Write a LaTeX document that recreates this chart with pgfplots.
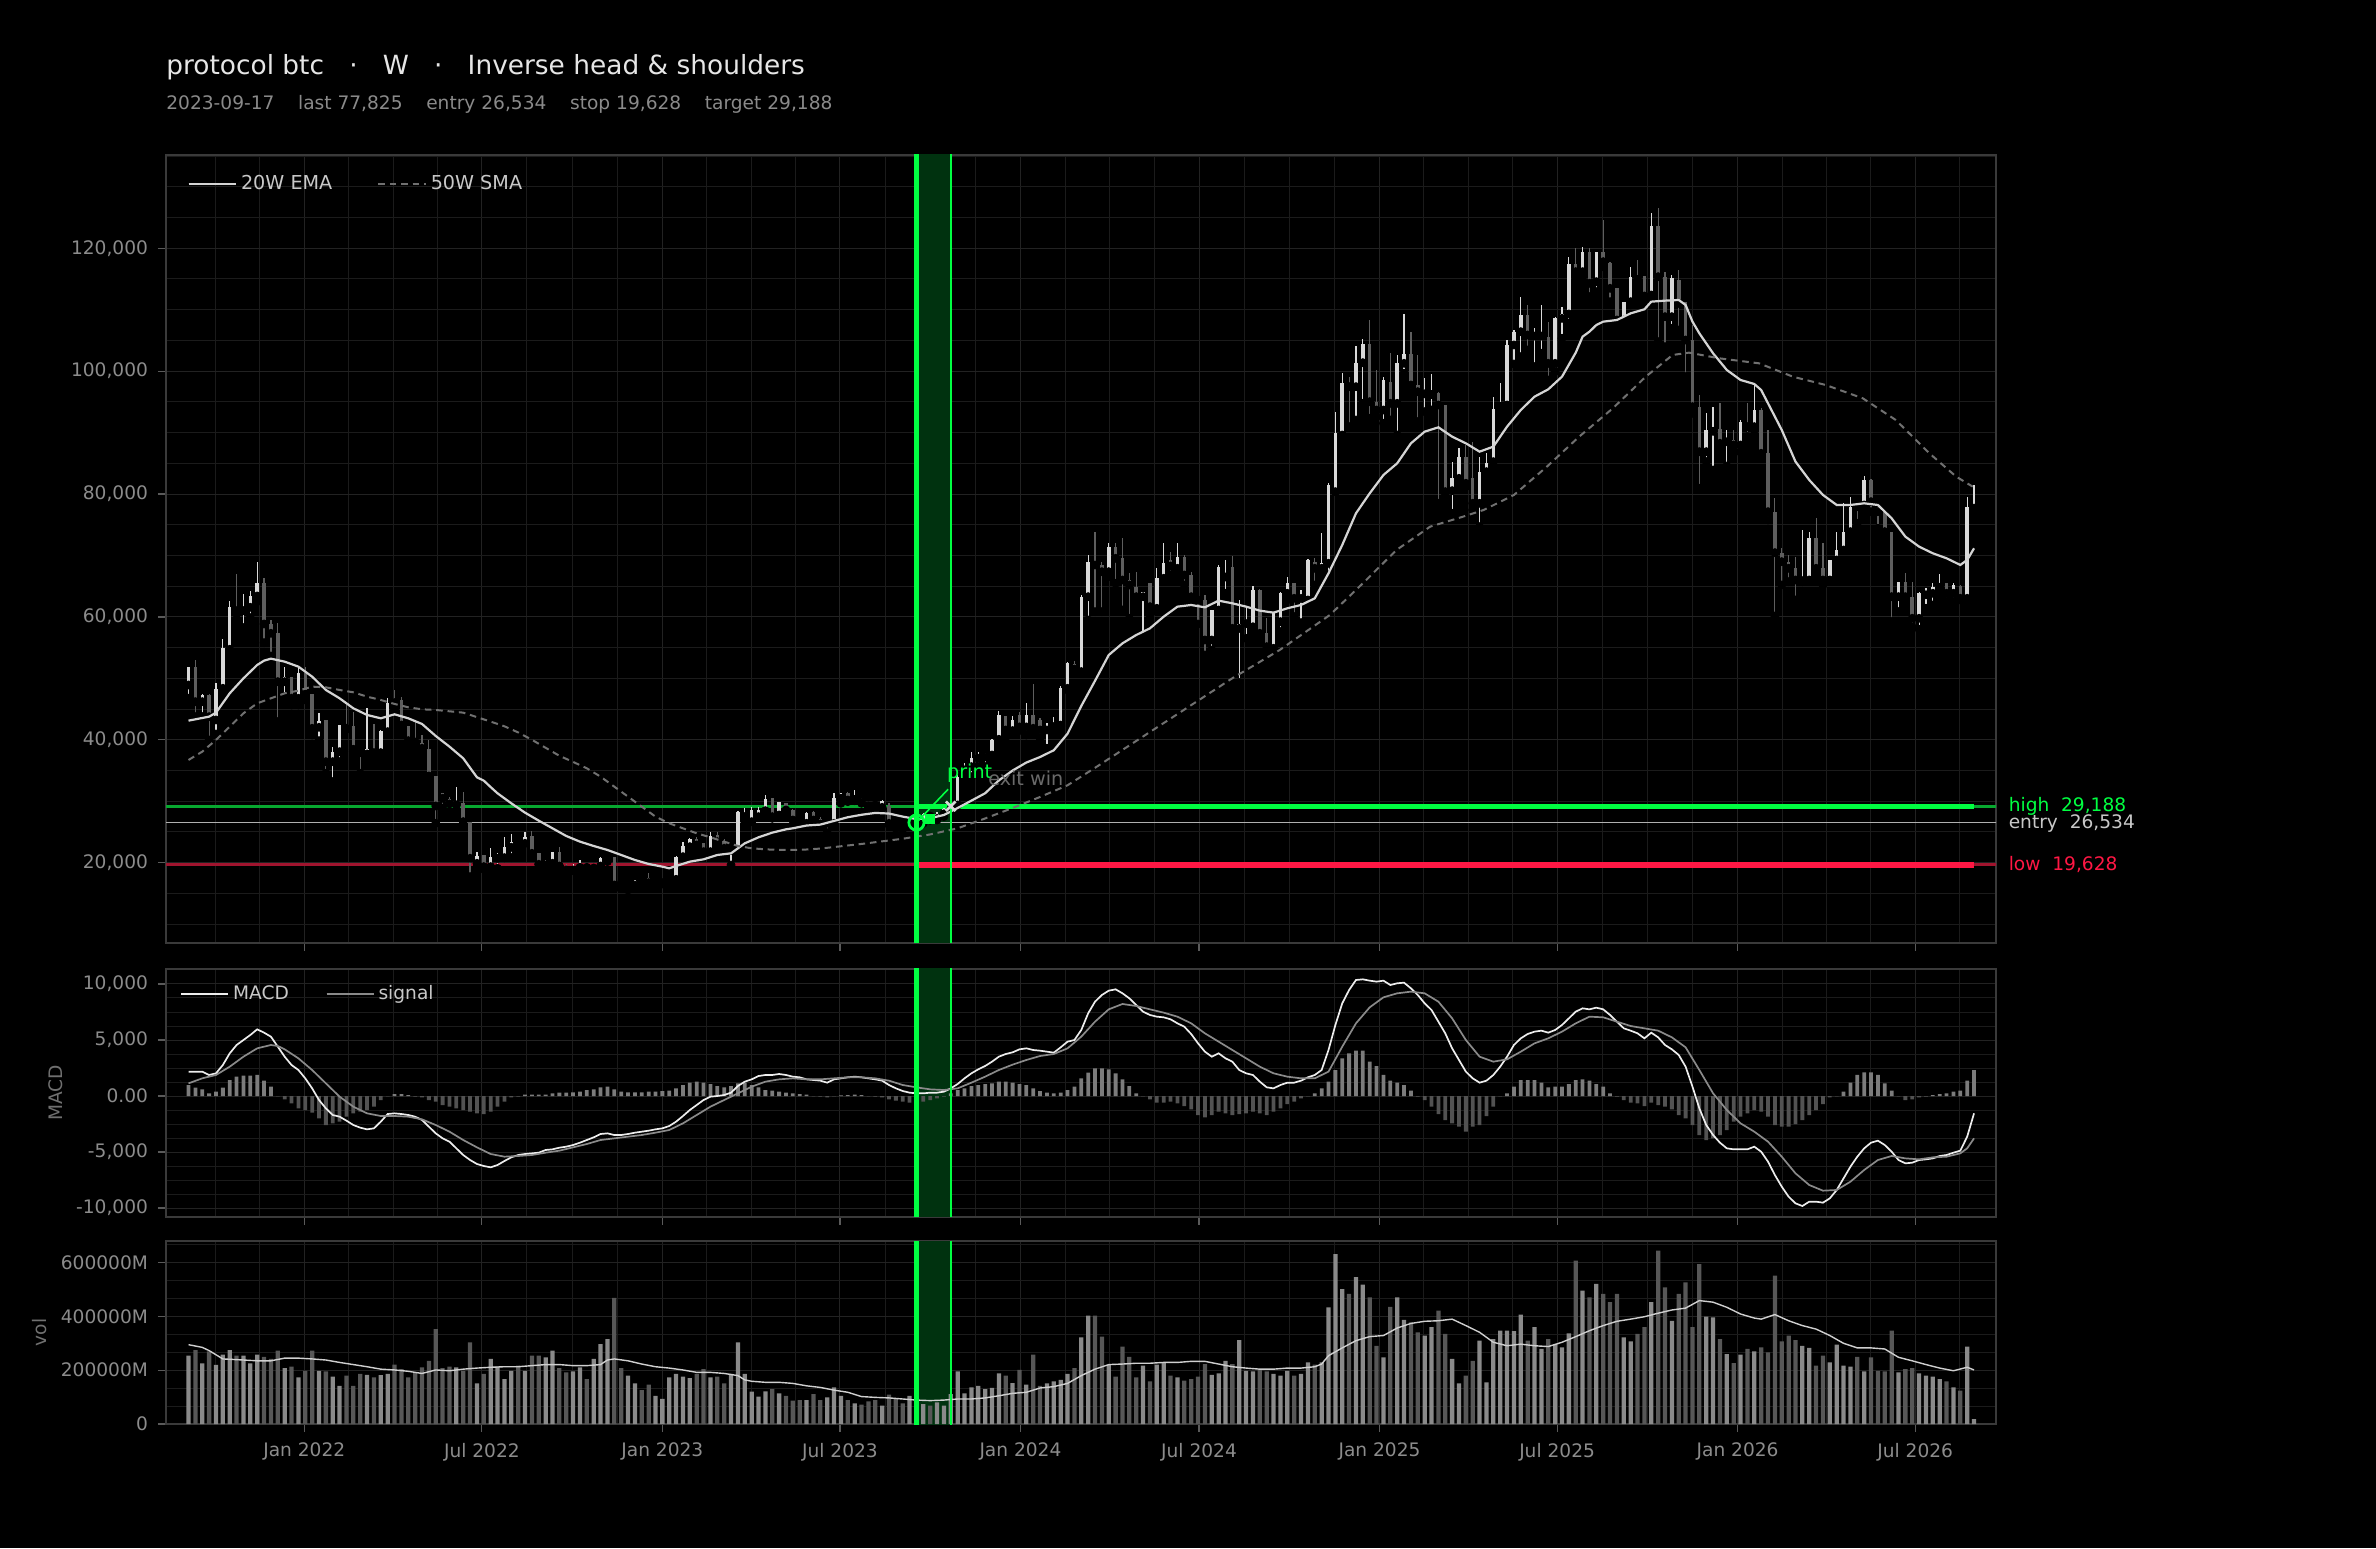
\documentclass[border=0pt]{standalone}
\usepackage{fontspec}
\setmainfont{DejaVu Sans}
\usepackage{pgfplots}
\usepackage{pgfplotstable}
\pgfplotsset{compat=1.18}

\definecolor{upc}{HTML}{D9D9D9}
\definecolor{dnc}{HTML}{5E5E5E}
\definecolor{emac}{HTML}{D4D4D4}
\definecolor{smac}{HTML}{707070}
\definecolor{bgreen}{HTML}{00FF41}
\definecolor{dgreen}{HTML}{08A830}
\definecolor{bandg}{HTML}{00320F}
\definecolor{bred}{HTML}{FF1744}
\definecolor{dred}{HTML}{A0142E}
\definecolor{entc}{HTML}{B0B0B0}
\definecolor{gridmaj}{HTML}{222222}
\definecolor{gridmin}{HTML}{1B1B1B}
\definecolor{framec}{HTML}{3A3A3A}
\definecolor{tickc}{HTML}{5A5A5A}
\definecolor{ticktxt}{HTML}{8C8C8C}
\definecolor{labc}{HTML}{707070}
\definecolor{titc}{HTML}{E6E6E6}
\definecolor{subc}{HTML}{8A8A8A}
\definecolor{legc}{HTML}{C8C8C8}
\definecolor{volup}{HTML}{8A8A8A}
\definecolor{voldn}{HTML}{575757}
\definecolor{histp}{HTML}{7C7C7C}
\definecolor{histn}{HTML}{525252}
\definecolor{macdc}{HTML}{EDEDED}
\definecolor{sigc}{HTML}{8A8A8A}
\definecolor{vmac}{HTML}{CFCFCF}
\definecolor{exitc}{HTML}{6A6A6A}

\pgfplotstableread{
i o h l c u v
0 48922 51905 46752 51905 1 254000
1 51905 52990 43769 46209 0 275000
2 46209 47457 43769 47294 1 225500
3 47294 47457 39972 43769 0 270000
4 43227 49194 40948 48217 1 220000
5 48380 56353 47185 54888 1 257800
6 54725 62645 54509 61560 1 275000
7 61560 66983 59607 61018 0 254000
8 61018 63675 58251 61397 1 254000
9 61560 64217 59878 63404 1 225500
10 63404 68882 62482 65573 1 257800
11 65465 66279 55810 58848 0 250000
12 58794 59498 53640 57330 0 242000
13 57330 59064 42955 49465 0 273000
14 49465 51905 47023 50279 1 208000
15 50170 50279 45667 46752 0 213000
16 46752 51905 45667 50821 1 173000
17 50821 51905 46481 47457 0 198000
18 47457 47457 40785 41870 0 273000
19 42033 44420 39863 43118 1 198000
20 43227 43227 34549 36447 0 196000
21 36447 38888 33193 38074 1 176000
22 38074 42413 36447 42413 1 142000
23 42142 45667 41707 41870 0 180000
24 42250 44582 38074 38454 0 142000
25 38454 38454 34549 37912 0 186000
26 37695 45125 37532 38454 1 183000
27 38454 42575 37369 37912 0 173000
28 37912 41598 37803 41490 1 182000
29 41327 46752 40948 46046 1 186000
30 46480 48109 44854 46046 0 221000
31 46480 47023 42142 42413 0 204000
32 42250 42250 39429 39863 0 173000
33 39972 42955 38617 39646 0 192000
34 39429 40785 37803 38617 0 211000
35 38454 39972 34006 34115 0 235000
36 34115 34115 26413 29234 0 353000
37 31293 31293 28853 30480 0 208000
38 30317 30751 28310 29559 0 213000
39 29396 32270 29396 29776 1 211000
40 29776 31564 26685 26685 0 198000
41 26685 26685 17736 20719 0 304000
42 19903 21801 19360 21096 1 151000
43 21259 21259 18926 19360 0 186000
44 19360 22343 19086 20900 1 242000
45 20700 21500 19086 21000 1 213000
46 20823 24131 20823 22504 1 167000
47 22504 24673 20823 23426 1 198000
48 23534 23534 22612 23263 0 217000
49 23154 25053 23154 24239 1 198000
50 24348 25161 20985 21528 0 254000
51 21636 21636 19738 19738 0 254000
52 19629 20443 19629 19900 1 248000
53 19900 21690 18707 21690 1 273000
54 21799 22612 19466 19466 0 208000
55 19466 19792 18382 18815 0 192000
56 18815 19792 18707 19249 1 196000
57 19249 20443 18978 19629 1 211000
58 19466 19900 18382 19249 0 167000
59 19140 19629 18924 19466 1 242000
60 19466 20985 19358 20714 1 297000
61 20714 21365 20172 20985 1 316000
62 20985 20985 15832 16375 0 469000
63 16917 17189 15832 16646 0 208000
64 16646 16917 15561 16917 1 180000
65 16375 17189 16212 17080 1 151000
66 17297 17460 16754 16917 0 126000
67 17460 18273 16646 16754 0 146000
68 16754 17080 16375 16917 1 105000
69 16754 17080 16538 16808 1 93000
70 16754 16917 16646 16917 1 173000
71 17297 21094 17189 20985 1 186000
72 20985 23426 20714 22721 1 176000
73 22612 23968 22504 23860 1 171000
74 23860 24131 22612 22884 0 186000
75 23155 23263 21528 21799 0 204000
76 21799 25053 21636 24348 1 173000
77 24511 25053 23155 23426 0 176000
78 23589 23806 22178 22341 0 151000
79 22000 22612 19629 22341 1 186000
80 22178 28471 22070 28308 1 304000
81 27500 28850 26680 28000 1 186000
82 26680 29121 26680 28580 1 120000
83 27494 29121 27385 28580 1 102000
84 28471 31020 28308 30314 1 121000
85 30477 30586 27223 27494 0 130000
86 27765 29935 27494 29935 1 114000
87 29664 29772 28308 28579 0 105000
88 28579 28687 26138 26952 0 87000
89 27223 27494 26680 26843 0 89000
90 26409 28308 26138 28145 1 89000
91 28300 28470 26680 26950 0 111000
92 27059 27385 26138 26300 0 89000
93 26409 26843 24890 26680 1 99000
94 26409 31291 26409 30477 1 136000
95 30477 31400 29660 31020 1 105000
96 31290 31507 29935 30206 0 89000
97 30300 31833 30097 30700 1 77000
98 30314 30477 29664 29772 0 72000
99 29935 29935 29012 29229 0 84000
100 29663 29935 29012 29391 0 89000
101 29012 30206 28850 30097 1 68000
102 29229 29663 26138 26409 0 109000
103 26843 26951 25595 26409 0 93000
104 26951 27059 25432 26518 0 77000
105 26400 26900 26000 26600 1 105000
106 26200 26900 26000 26534 1 74000
107 26534 28150 26400 27900 1 74000
108 27900 28000 26900 27600 0 68000
109 27200 28200 26950 27950 1 80000
110 27950 28950 27500 28800 1 68000
111 28800 30300 28600 29400 1 111000
112 29400 34300 29400 34000 1 196000
113 35100 36200 34300 35600 1 114000
114 35634 38073 34004 36990 1 136000
115 37000 38073 35634 37500 1 142000
116 37200 37800 35634 37500 1 130000
117 37530 40080 36717 39970 1 134000
118 40080 44745 39970 44079 1 188000
119 43876 43876 40405 41598 0 180000
120 41500 43900 41000 43225 1 152000
121 44000 44500 41500 42100 0 201000
122 42100 45940 40780 44000 1 146000
123 44040 49084 41700 41870 0 258000
124 43225 43496 40242 41598 0 142000
125 41600 42700 38614 42142 1 151000
126 42142 43767 41870 42576 1 159000
127 42400 48700 42142 48378 1 164000
128 48378 52717 48107 52446 1 186000
129 52400 52900 50800 51500 0 208000
130 51100 63500 50800 63294 1 322000
131 63294 70073 59497 68988 1 403000
132 68988 73763 60853 68446 0 403000
133 68446 68988 60853 67361 0 325000
134 67361 71972 66548 71430 1 220000
135 71430 71972 65463 69531 0 176000
136 69531 72787 61124 66006 0 288000
137 66006 67090 59768 65192 0 250000
138 64921 67361 62752 63294 0 173000
139 63294 64107 56786 64107 1 217000
140 65463 65463 60311 61667 0 159000
141 61400 67904 60853 66277 1 221000
142 66277 71972 66277 68717 1 229000
143 69260 70616 66820 68283 0 180000
144 67904 71972 67633 69802 1 173000
145 69802 70073 65192 66820 0 161000
146 66820 67361 62752 63294 0 167000
147 63294 63294 58846 62752 0 176000
148 62752 63565 53802 56243 0 223000
149 56243 61124 54615 61124 1 183000
150 61124 68446 60853 68174 1 188000
151 66500 69260 63836 67000 1 235000
152 68174 69911 57326 58140 0 223000
153 58140 62755 49302 58900 1 312000
154 58900 61400 56500 59000 1 198000
155 58400 65030 57871 64380 1 196000
156 64380 64500 57330 57330 0 204000
157 57330 59773 54347 55160 0 196000
158 54890 60856 54618 60585 1 186000
159 59230 64110 57600 63840 1 180000
160 63840 66552 62755 65576 1 198000
161 65576 65576 60043 63027 0 180000
162 63000 64380 59068 63400 1 186000
163 62755 69372 62755 69263 1 229000
164 69000 69534 65195 67907 0 221000
165 67907 73602 67636 68720 1 229000
166 68720 81740 66823 81468 1 434000
167 80383 93400 80383 89875 1 632000
168 89600 99638 89600 98011 1 502000
169 98011 98987 90960 97468 0 484000
170 97468 104086 92044 101374 1 546000
171 101374 105171 94756 104411 1 518000
172 104411 108316 92316 95027 0 471000
173 95027 100180 92587 93671 0 291000
174 93671 98987 91502 98554 1 248000
175 98283 102892 92044 94757 0 436000
176 94757 102622 89605 101265 1 471000
177 101265 109293 99638 102784 1 387000
178 102784 106418 96384 97739 0 378000
179 97739 102622 91773 96655 0 341000
180 96300 98824 93400 96500 1 329000
181 96200 99530 93671 96400 1 360000
182 96384 96655 78484 94485 0 422000
183 94485 94485 80111 80382 0 335000
184 80545 85265 76856 82550 1 242000
185 82550 87433 81468 86077 1 151000
186 86077 87976 81197 81740 0 180000
187 82540 88518 77400 78485 0 235000
188 78485 86077 74688 83637 1 310000
189 83637 86620 83094 85101 1 155000
190 85264 95841 85264 93780 1 316000
191 94268 98011 93129 94540 1 347000
192 94485 105062 94485 104249 1 347000
193 104249 106689 101157 106418 1 345000
194 106418 112113 102349 109130 1 407000
195 109130 110757 103435 105875 0 310000
196 105700 106960 100722 105900 1 360000
197 105700 110757 102892 105875 1 279000
198 105604 108045 98554 101265 0 316000
199 101265 108858 99909 108587 1 297000
200 108587 110486 105333 109293 1 285000
201 109293 118500 107774 117500 1 337000
202 117500 120000 115000 116182 0 608000
203 116182 120250 114826 119437 1 496000
204 119437 119979 112114 114284 0 471000
205 114555 119437 112927 119437 1 521000
206 119437 124589 116996 117810 0 484000
207 117647 117810 111301 113470 0 453000
208 113470 113470 107775 108317 0 484000
209 108317 111301 107504 111301 1 322000
210 111301 116996 110758 115369 1 307000
211 115300 118081 114555 114900 0 335000
212 115477 115477 111572 112223 0 360000
213 112385 125782 111843 123613 1 453000
214 123613 126487 104792 115369 0 645000
215 115369 116182 103978 108859 0 508000
216 108859 115640 106961 115098 1 384000
217 114826 116453 106690 111030 0 484000
218 111301 111301 99097 105063 0 527000
219 105063 107504 93130 94215 0 360000
220 94215 96113 80926 86893 0 595000
221 86893 93130 85266 90418 1 399000
222 90200 94215 83910 90500 1 397000
223 90527 94757 87978 88249 0 316000
224 88500 90418 84554 88800 1 260000
225 88790 90418 86622 87978 0 226000
226 87978 92045 86893 91774 1 258000
227 91500 94757 89334 90960 0 279000
228 90960 98012 90418 93673 1 270000
229 93673 93943 86080 86622 0 285000
230 86622 90418 75773 77129 0 266000
231 77129 79299 60152 70458 0 552000
232 70458 71163 65196 68993 0 307000
233 68993 70078 65739 67908 0 329000
234 67908 69807 62755 66010 0 312000
235 65900 74147 65739 66200 1 291000
236 66010 73876 66010 72791 1 283000
237 72791 76044 67637 67908 0 217000
238 67908 71977 65196 66010 0 254000
239 66010 69264 65900 69264 1 229000
240 69264 73876 67908 70891 1 295000
241 70891 78486 70891 73876 1 217000
242 73876 79570 73876 77944 1 213000
243 78215 78215 75231 77944 0 250000
244 78215 82934 78215 82283 1 196000
245 82283 82392 77129 78757 0 248000
246 77670 77944 74418 77129 0 198000
247 77129 77400 72629 73876 0 196000
248 73876 73876 59230 63298 0 347000
249 63298 65739 60857 65739 1 192000
250 65739 67203 62213 63298 0 204000
251 63298 65739 58306 59773 0 208000
252 59773 64111 57981 63840 1 188000
253 63600 64654 61400 63840 1 180000
254 63840 65576 61942 64817 1 176000
255 64817 66986 63840 65196 1 167000
256 65467 65576 62484 63840 0 159000
257 63840 65576 62484 65196 1 136000
258 65033 65196 62755 63027 0 124000
259 63027 79570 63027 77944 1 288000
260 77700 81468 76858 77825 1 18000
}\candles

\pgfplotstableread{
i e
0 43118
3 43769
4 44420
6 47565
8 50007
10 52175
11 52880
12 53207
14 52718
16 51905
18 50278
20 48108
22 46752
24 45125
26 44040
28 43498
30 44148
32 43498
34 42576
36 40623
38 38887
40 36989
42 33900
43 33352
44 32300
45 31291
47 29664
49 28145
51 26843
53 25596
55 24348
57 23426
59 22721
61 22070
63 21257
65 20443
67 19792
69 19358
70 19087
71 19466
73 20172
75 20551
77 21257
79 21528
81 23155
83 24131
85 24891
87 25433
88 25600
90 26050
92 26200
94 26800
96 27400
98 27800
100 28100
102 28000
104 27500
106 27100
108 27250
110 27765
112 28900
114 30100
116 31300
118 33400
120 35000
122 36300
124 37200
126 38300
128 41000
130 45500
132 49600
134 53800
136 55700
138 57057
140 58142
142 60040
144 61667
146 61938
148 61559
150 62644
152 62210
154 61670
156 61019
158 60693
160 61398
162 61941
164 63026
166 67094
168 71704
170 76857
172 80112
174 83095
176 84993
178 88243
180 90146
182 90852
184 89333
186 88248
188 86892
190 87705
192 90960
194 93671
196 95842
198 97035
200 99096
202 103000
203 105605
204 106419
205 107504
206 108046
208 108317
209 108859
210 109402
212 110053
213 111301
215 111464
217 111572
218 110758
219 108046
220 106148
222 102893
224 100181
226 98554
228 97903
229 96927
230 94757
232 90418
234 85265
236 82283
238 79842
240 78214
242 78214
244 78486
246 78214
248 76045
250 73062
252 71435
254 70350
256 69536
258 68451
259 69264
260 71163
}\ema

\pgfplotstableread{
i s
0 36717
2 38074
4 39972
6 42142
8 44312
10 45938
12 46752
14 47565
16 47999
18 48650
20 48542
22 48108
24 47728
26 47023
28 46481
30 45830
32 45288
34 44962
36 44854
40 44420
44 42955
46 42200
48 41200
50 40000
52 38700
54 37400
56 36400
58 35359
60 34003
62 32376
64 30749
66 29121
68 27494
70 26410
72 25596
74 24782
76 24131
78 23426
80 22721
82 22341
84 22179
86 22070
88 22070
90 22150
92 22300
94 22550
96 22800
98 23050
104 23900
108 24600
112 25600
116 27200
120 28900
124 30700
128 32600
132 35440
136 38355
140 41270
144 44180
148 47100
152 50020
158.9 54619
166.2 60314
171 65467
175.9 70891
180.8 74688
185.6 76315
188.6 77400
193 79841
197.8 84451
202.5 89333
207.4 93944
212.2 99097
216.1 102622
218.5 103002
222.9 102080
228.7 101265
233.6 99097
238.4 97741
243.8 95572
248.6 92046
253.5 86622
257.4 82825
259.8 81198
}\sma

\pgfplotstableread{
i m hv
0 2174 982
1 2174 744
2 2174 595
3 1876 238
4 2025 387
5 2768 744
6 3810 1429
7 4554 1727
8 5000 1816
9 5447 1816
10 5953 1876
11 5655 1370
12 5298 834
13 4405 0
14 3512 -298
15 2768 -655
16 2322 -1101
17 1578 -1250
18 685 -1488
19 -357 -1994
20 -1101 -2589
21 -1696 -2440
22 -1845 -2292
23 -2200 -1845
24 -2590 -1547
25 -2826 -1399
26 -2975 -1250
27 -2885 -952
28 -2290 -357
29 -1607 0
30 -1547 179
31 -1607 179
32 -1696 89
33 -1845 -60
34 -2143 -119
35 -2738 -357
36 -3333 -506
37 -3780 -804
38 -4077 -952
39 -4672 -1101
40 -5267 -1250
41 -5713 -1399
42 -6070 -1547
43 -6249 -1607
44 -6368 -1399
45 -6160 -952
46 -5803 -506
47 -5475 -119
48 -5267 -60
49 -5178 119
50 -5118 119
51 -5059 119
52 -4820 119
53 -4761 238
54 -4612 298
55 -4523 298
56 -4374 327
57 -4166 387
58 -3928 536
59 -3690 595
60 -3392 774
61 -3333 834
62 -3482 595
63 -3482 387
64 -3392 327
65 -3273 327
66 -3184 327
67 -3095 387
68 -2975 387
69 -2886 446
70 -2678 476
71 -2290 685
72 -1785 982
73 -1250 1191
74 -804 1280
75 -357 1191
76 -60 1072
77 0 893
78 89 774
79 298 893
80 893 1131
81 1280 1191
82 1488 982
83 1786 774
84 1876 536
85 1876 476
86 1965 387
87 1876 298
88 1727 238
89 1667 179
90 1488 119
91 1429 0
92 1370 -60
93 1191 -119
94 1488 0
95 1578 60
96 1667 89
97 1727 119
98 1667 89
99 1578 0
100 1488 -60
101 1370 -119
102 982 -298
103 685 -417
104 446 -506
105 298 -595
106 238 -595
107 238 -506
108 298 -357
109 298 -208
110 387 -60
111 685 238
112 1072 536
113 1578 685
114 2025 893
115 2382 982
116 2679 1072
117 3066 1131
118 3512 1280
119 3750 1280
120 3900 1191
121 4167 1072
122 4256 982
123 4107 685
124 4048 446
125 3959 298
126 3870 238
127 4346 298
128 4852 536
129 5000 834
130 5893 1578
131 7381 2083
132 8423 2470
133 9018 2470
134 9405 2381
135 9524 2025
136 9167 1488
137 8720 893
138 8125 238
139 7530 0
140 7232 -298
141 7084 -595
142 7024 -595
143 6846 -506
144 6489 -655
145 6191 -893
146 5536 -1190
147 4703 -1696
148 3959 -1904
149 3512 -1696
150 3810 -1399
151 3364 -1547
152 3066 -1696
153 2322 -1607
154 2025 -1547
155 1876 -1399
156 1280 -1547
157 774 -1696
158 685 -1399
159 982 -1101
160 1191 -714
161 1191 -506
162 1370 -208
163 1667 0
164 1876 238
165 2322 685
166 4107 1280
167 6340 2322
168 8274 3364
169 9465 3810
170 10357 4048
171 10417 4048
172 10298 3066
173 10209 2679
174 10298 1876
175 9911 1370
176 10060 1191
177 10119 982
178 9613 476
179 9018 -60
180 8274 -357
181 7679 -952
182 6637 -1607
183 5596 -2143
184 4256 -2440
185 3215 -2738
186 2174 -3184
187 1578 -2738
188 1191 -2589
189 1370 -1785
190 1876 -952
191 2620 0
192 3512 238
193 4554 834
194 5150 1429
195 5536 1429
196 5745 1429
197 5834 1191
198 5655 774
199 5893 834
200 6340 834
201 6935 1072
202 7530 1429
203 7828 1488
204 7738 1370
205 7887 1072
206 7738 834
207 7232 238
208 6637 -60
209 6042 -357
210 5834 -595
211 5596 -655
212 5150 -893
213 5655 -595
214 5238 -804
215 4554 -952
216 4167 -1190
217 3661 -1696
218 2620 -1994
219 834 -2589
220 -1101 -3482
221 -2589 -3928
222 -3481 -3779
223 -4166 -3482
224 -4672 -3035
225 -4761 -2292
226 -4761 -1845
227 -4761 -1547
228 -4523 -1250
229 -4969 -1399
230 -5862 -1845
231 -7052 -2589
232 -8094 -2738
233 -8987 -2738
234 -9582 -2500
235 -9820 -2143
236 -9433 -1696
237 -9433 -1250
238 -9522 -714
239 -9135 -119
240 -8393 0
241 -7351 387
242 -6309 1191
243 -5416 1876
244 -4672 2113
245 -4166 2113
246 -3988 1876
247 -4374 1131
248 -4969 476
249 -5713 0
250 -6011 -357
251 -5952 -298
252 -5713 -119
253 -5654 -60
254 -5565 89
255 -5356 179
256 -5267 238
257 -5059 387
258 -4880 476
259 -3630 1370
260 -1547 2322
}\macd

\pgfplotstableread{
i s
0 1131
2 1578
4 1876
6 2619
8 3512
10 4256
12 4554
13 4465
14 4167
16 3364
18 2322
20 1131
22 -60
24 -952
26 -1547
28 -1785
30 -1785
32 -1845
34 -2083
36 -2590
38 -3184
40 -3928
42 -4583
44 -5178
46 -5416
48 -5356
50 -5267
52 -5059
54 -4880
56 -4583
58 -4285
60 -3928
62 -3780
64 -3630
66 -3482
68 -3273
70 -3035
72 -2440
74 -1696
76 -952
78 -357
80 238
82 834
84 1280
86 1488
88 1578
90 1488
92 1488
94 1578
96 1667
98 1667
100 1578
102 1370
104 982
106 774
108 595
110 536
112 685
114 1191
116 1727
118 2322
120 2800
122 3215
124 3572
126 3750
128 4256
130 5298
132 6637
134 7738
136 8215
138 8036
140 7738
142 7441
144 7084
146 6489
148 5596
150 4852
152 4107
154 3364
156 2619
158 2025
160 1727
162 1578
164 1578
166 2174
168 4405
170 6488
172 7917
174 8810
176 9167
178 9316
180 9167
182 8423
184 6935
186 5000
188 3512
190 3066
192 3274
194 3959
196 4703
198 5150
200 5745
202 6488
204 7084
206 7024
208 6637
210 6250
212 6042
214 5834
216 5238
218 4346
220 2322
222 238
224 -1250
226 -2440
228 -3184
230 -4077
232 -5416
234 -6904
236 -7945
238 -8451
240 -8391
242 -7649
244 -6606
246 -5713
248 -5356
250 -5565
252 -5654
254 -5475
256 -5416
258 -5118
259 -4672
260 -3779
}\signal

\pgfplotstableread{
i w
0 295000
2 285000
3 273000
5 242000
8 238000
10 235000
12 235000
14 245000
16 245000
18 242000
20 238000
22 229000
24 221000
26 213000
28 204000
30 201000
32 196000
34 188000
36 201000
38 198000
40 204000
42 208000
44 211000
46 213000
48 213000
50 217000
52 221000
54 221000
56 217000
58 217000
60 221000
61 238000
62 242000
64 235000
66 223000
68 213000
70 208000
72 201000
74 192000
76 192000
78 188000
80 180000
81 164000
82 159000
84 155000
86 155000
88 151000
90 142000
92 136000
94 126000
96 118000
98 102000
100 99000
102 97000
104 93000
106 89000
108 87000
110 89000
112 93000
114 93000
116 97000
118 105000
120 114000
122 118000
124 134000
126 139000
128 151000
130 180000
132 204000
134 221000
136 223000
138 226000
140 226000
142 229000
144 229000
146 233000
148 233000
150 223000
152 213000
154 208000
156 204000
158 204000
160 208000
162 208000
164 213000
165 223000
166 254000
168 283000
170 310000
172 325000
174 329000
176 357000
178 374000
180 382000
182 384000
184 390000
186 366000
188 341000
190 304000
192 291000
194 297000
196 291000
198 288000
200 304000
202 325000
204 347000
206 366000
208 382000
210 390000
212 399000
214 412000
216 424000
218 431000
220 459000
222 453000
224 434000
226 409000
228 394000
229 390000
231 407000
233 384000
235 366000
237 353000
239 329000
241 300000
243 283000
245 283000
247 279000
249 248000
251 235000
253 221000
255 208000
257 198000
259 211000
260 201000
}\volma

\pgfplotsset{
  onlyup/.style={restrict expr to domain={\thisrow{u}}{0.5:1.5}},
  onlydn/.style={restrict expr to domain={\thisrow{u}}{-0.5:0.5}},
  panel/.style={
    scale only axis, anchor=south west, width=915pt,
    xmin=-3.28, xmax=263.2,
    axis line style={draw=framec, line width=0.7pt},
    tick align=outside, tick pos=left,
    major tick length=4pt, minor tick length=0pt,
    tick style={draw=tickc, line width=0.6pt},
    xtick={16.857,42.714,69,94.857,121.143,147.143,173.429,199.286,225.571,251.429},
    minor xtick={3.929,10.393,23.321,29.786,36.25,49.286,55.857,62.429,75.464,81.929,88.393,101.429,108,114.571,127.643,134.143,140.643,153.714,160.286,166.857,179.893,186.357,192.821,205.857,212.429,219,232.036,238.5,244.964,257.893},
    grid=both,
    major grid style={draw=gridmaj, line width=0.5pt},
    minor grid style={draw=gridmin, line width=0.5pt},
    ticklabel style={font=\fontsize{9.3}{11}\selectfont, text=ticktxt},
    yticklabel style={xshift=-1.5pt},
    xticklabel style={yshift=-2pt},
    ylabel style={font=\fontsize{9.3}{11}\selectfont, text=labc},
    scaled y ticks=false, scaled x ticks=false,
    clip mode=individual,
    legend cell align=left,
    legend image code/.code={\draw[##1] (0pt,0pt) -- (20pt,0pt); \path (0pt,0pt) -- (23.7pt,0pt);},
  },
  band/.style={forget plot, fill=bandg, draw=none},
  vlineL/.style={forget plot, draw=bgreen, line width=2.1pt},
  vlineR/.style={forget plot, draw=bgreen, line width=1.2pt},
}

\begin{document}
\begin{tikzpicture}
\fill[black] (0,0) rectangle (1188pt,774pt);

\node[anchor=base west, text=titc, font=\fontsize{13.2}{15}\selectfont, inner sep=0pt] at (83pt,736.5pt)
  {protocol btc\ \ \ ·\ \ \ W\ \ \ ·\ \ \ Inverse head \& shoulders};
\node[anchor=base west, text=subc, font=\fontsize{9.3}{11}\selectfont, inner sep=0pt] at (83pt,719pt)
  {2023-09-17\ \ \ \ last 77,825\ \ \ \ entry 26,534\ \ \ \ stop 19,628\ \ \ \ target 29,188};

% ---------------- main price panel ----------------
\begin{axis}[panel, at={(83pt,302.5pt)}, height=394pt,
  ymin=6935, ymax=135170,
  ytick={20000,40000,60000,80000,100000,120000},
  yticklabels={{20,000},{40,000},{60,000},{80,000},{100,000},{120,000}},
  minor ytick={10000,15000,...,135000},
  xticklabels={},
  legend columns=2,
  legend style={draw=none, fill=none, text=legc, font=\fontsize{9.6}{11}\selectfont,
    at={(rel axis cs:0,1)}, anchor=north west, xshift=7.5pt, yshift=-6pt,
    /tikz/every even column/.append style={column sep=20.5pt}},
]
\addplot[band] coordinates {(106,-100000)(111,-100000)(111,300000)(106,300000)};
\addplot[forget plot, draw=dgreen, line width=1.5pt] coordinates {(-5,29188)(266,29188)};
\addplot[forget plot, draw=entc, line width=0.9pt] coordinates {(-5,26534)(266,26534)};
\addplot[forget plot, draw=dred, line width=1.5pt] coordinates {(-5,19628)(266,19628)};
\addplot[forget plot, draw=bgreen, line width=2.7pt] coordinates {(106,29188)(260,29188)};
\addplot[forget plot, draw=bred, line width=2.7pt] coordinates {(106,19628)(260,19628)};

% wicks
\addplot[forget plot, only marks, mark=none, onlyup,
  error bars/.cd, y dir=plus, y explicit, error mark=none,
  error bar style={draw=upc, line width=0.6pt}]
  table[x=i, y=l, y error plus expr=\thisrow{h}-\thisrow{l}] {\candles};
\addplot[forget plot, only marks, mark=none, onlydn,
  error bars/.cd, y dir=plus, y explicit, error mark=none,
  error bar style={draw=dnc, line width=0.6pt}]
  table[x=i, y=l, y error plus expr=\thisrow{h}-\thisrow{l}] {\candles};
% bodies
\addplot[forget plot, only marks, mark=none, onlyup,
  error bars/.cd, y dir=plus, y explicit, error mark=none,
  error bar style={draw=upc, line width=1.75pt}]
  table[x=i, y=o, y error plus expr=\thisrow{c}-\thisrow{o}] {\candles};
\addplot[forget plot, only marks, mark=none, onlydn,
  error bars/.cd, y dir=plus, y explicit, error mark=none,
  error bar style={draw=dnc, line width=1.75pt}]
  table[x=i, y=c, y error plus expr=\thisrow{o}-\thisrow{c}] {\candles};

\addplot[draw=emac, line width=1.1pt, mark=none] table[x=i, y=e] {\ema};
\addlegendentry{20W EMA}
\addplot[draw=smac, line width=1pt, dash pattern=on 3.3pt off 2.4pt, mark=none] table[x=i, y=s] {\sma};
\addlegendentry{50W SMA}

\addplot[vlineL] coordinates {(106,-100000)(106,300000)};
\addplot[vlineR] coordinates {(111,-100000)(111,300000)};

\addplot[forget plot, draw=bgreen, line width=0.8pt] coordinates {(106,26534)(110.6,31947)};
\addplot[forget plot, only marks, mark=square*, mark size=2.25pt, mark options={draw=bgreen, fill=bgreen}] coordinates {(108,27150)};
\addplot[forget plot, only marks, mark=o, mark size=3.8pt, mark options={draw=bgreen, line width=1.4pt, fill=none}] coordinates {(106,26534)};
\addplot[forget plot, only marks, mark=x, mark size=3.4pt, mark options={draw=upc, line width=1.3pt}] coordinates {(111,29188)};

\node[anchor=base west, text=bgreen, font=\fontsize{9.6}{11}\selectfont, inner sep=0pt] at (axis cs:110.4,33737) {print};
\node[anchor=base west, text=exitc, font=\fontsize{9.6}{11}\selectfont, inner sep=0pt] at (axis cs:116.4,32484) {exit win};

\node[anchor=mid west, text=bgreen, font=\fontsize{9.3}{11}\selectfont, inner sep=0pt] at (axis cs:265,29188) {high\ \ 29,188};
\node[anchor=mid west, text=legc, font=\fontsize{9.3}{11}\selectfont, inner sep=0pt] at (axis cs:265,26534) {entry\ \ 26,534};
\node[anchor=mid west, text=bred, font=\fontsize{9.3}{11}\selectfont, inner sep=0pt] at (axis cs:265,19628) {low\ \ 19,628};
\end{axis}

% ---------------- MACD panel ----------------
\begin{axis}[panel, at={(83pt,165.5pt)}, height=124pt,
  ymin=-10800, ymax=11340,
  ytick={-10000,-5000,0,5000,10000},
  yticklabels={{-10,000},{-5,000},{0.00},{5,000},{10,000}},
  minor ytick={-10000,-8750,...,11250},
  xticklabels={},
  ylabel={MACD},
  legend columns=2,
  legend style={draw=none, fill=none, text=legc, font=\fontsize{9.3}{11}\selectfont,
    at={(rel axis cs:0,1)}, anchor=north west, xshift=4pt, yshift=-4pt,
    /tikz/every even column/.append style={column sep=16.5pt}},
  legend image code/.code={\draw[#1] (0pt,0pt) -- (20pt,0pt); \path (0pt,0pt) -- (23.5pt,0pt);},
]
\addplot[band] coordinates {(106,-100000)(111,-100000)(111,100000)(106,100000)};
\addplot[forget plot, ybar, bar width=0.55, bar shift=0pt, fill=histp, draw=none, restrict y to domain=0:100000] table[x=i, y=hv] {\macd};
\addplot[forget plot, ybar, bar width=0.55, bar shift=0pt, fill=histn, draw=none, restrict y to domain=-100000:0] table[x=i, y=hv] {\macd};
\addplot[draw=macdc, line width=0.85pt, mark=none] table[x=i, y=m] {\macd};
\addlegendentry{MACD}
\addplot[draw=sigc, line width=0.85pt, mark=none] table[x=i, y=s] {\signal};
\addlegendentry{signal}
\addplot[vlineL] coordinates {(106,-100000)(106,100000)};
\addplot[vlineR] coordinates {(111,-100000)(111,100000)};
\end{axis}

% ---------------- volume panel ----------------
\begin{axis}[panel, at={(83pt,62pt)}, height=91.5pt,
  ymin=0, ymax=680600,
  ytick={0,200000,400000,600000},
  yticklabels={0,200000M,400000M,600000M},
  minor ytick={66667,133333,266667,333333,466667,533333,666667},
  xticklabels={Jan 2022,Jul 2022,Jan 2023,Jul 2023,Jan 2024,Jul 2024,Jan 2025,Jul 2025,Jan 2026,Jul 2026},
  ylabel={vol},
]
\addplot[band] coordinates {(106,-100000)(111,-100000)(111,1000000)(106,1000000)};
\addplot[forget plot, ybar, bar width=0.62, bar shift=0pt, fill=volup, draw=none, onlyup] table[x=i, y=v] {\candles};
\addplot[forget plot, ybar, bar width=0.62, bar shift=0pt, fill=voldn, draw=none, onlydn] table[x=i, y=v] {\candles};
\addplot[forget plot, draw=vmac, line width=0.7pt, mark=none] table[x=i, y=w] {\volma};
\addplot[vlineL] coordinates {(106,-100000)(106,1000000)};
\addplot[vlineR] coordinates {(111,-100000)(111,1000000)};
\end{axis}

\pgfresetboundingbox
\useasboundingbox (0,0) rectangle (1188pt,774pt);
\end{tikzpicture}
\end{document}
